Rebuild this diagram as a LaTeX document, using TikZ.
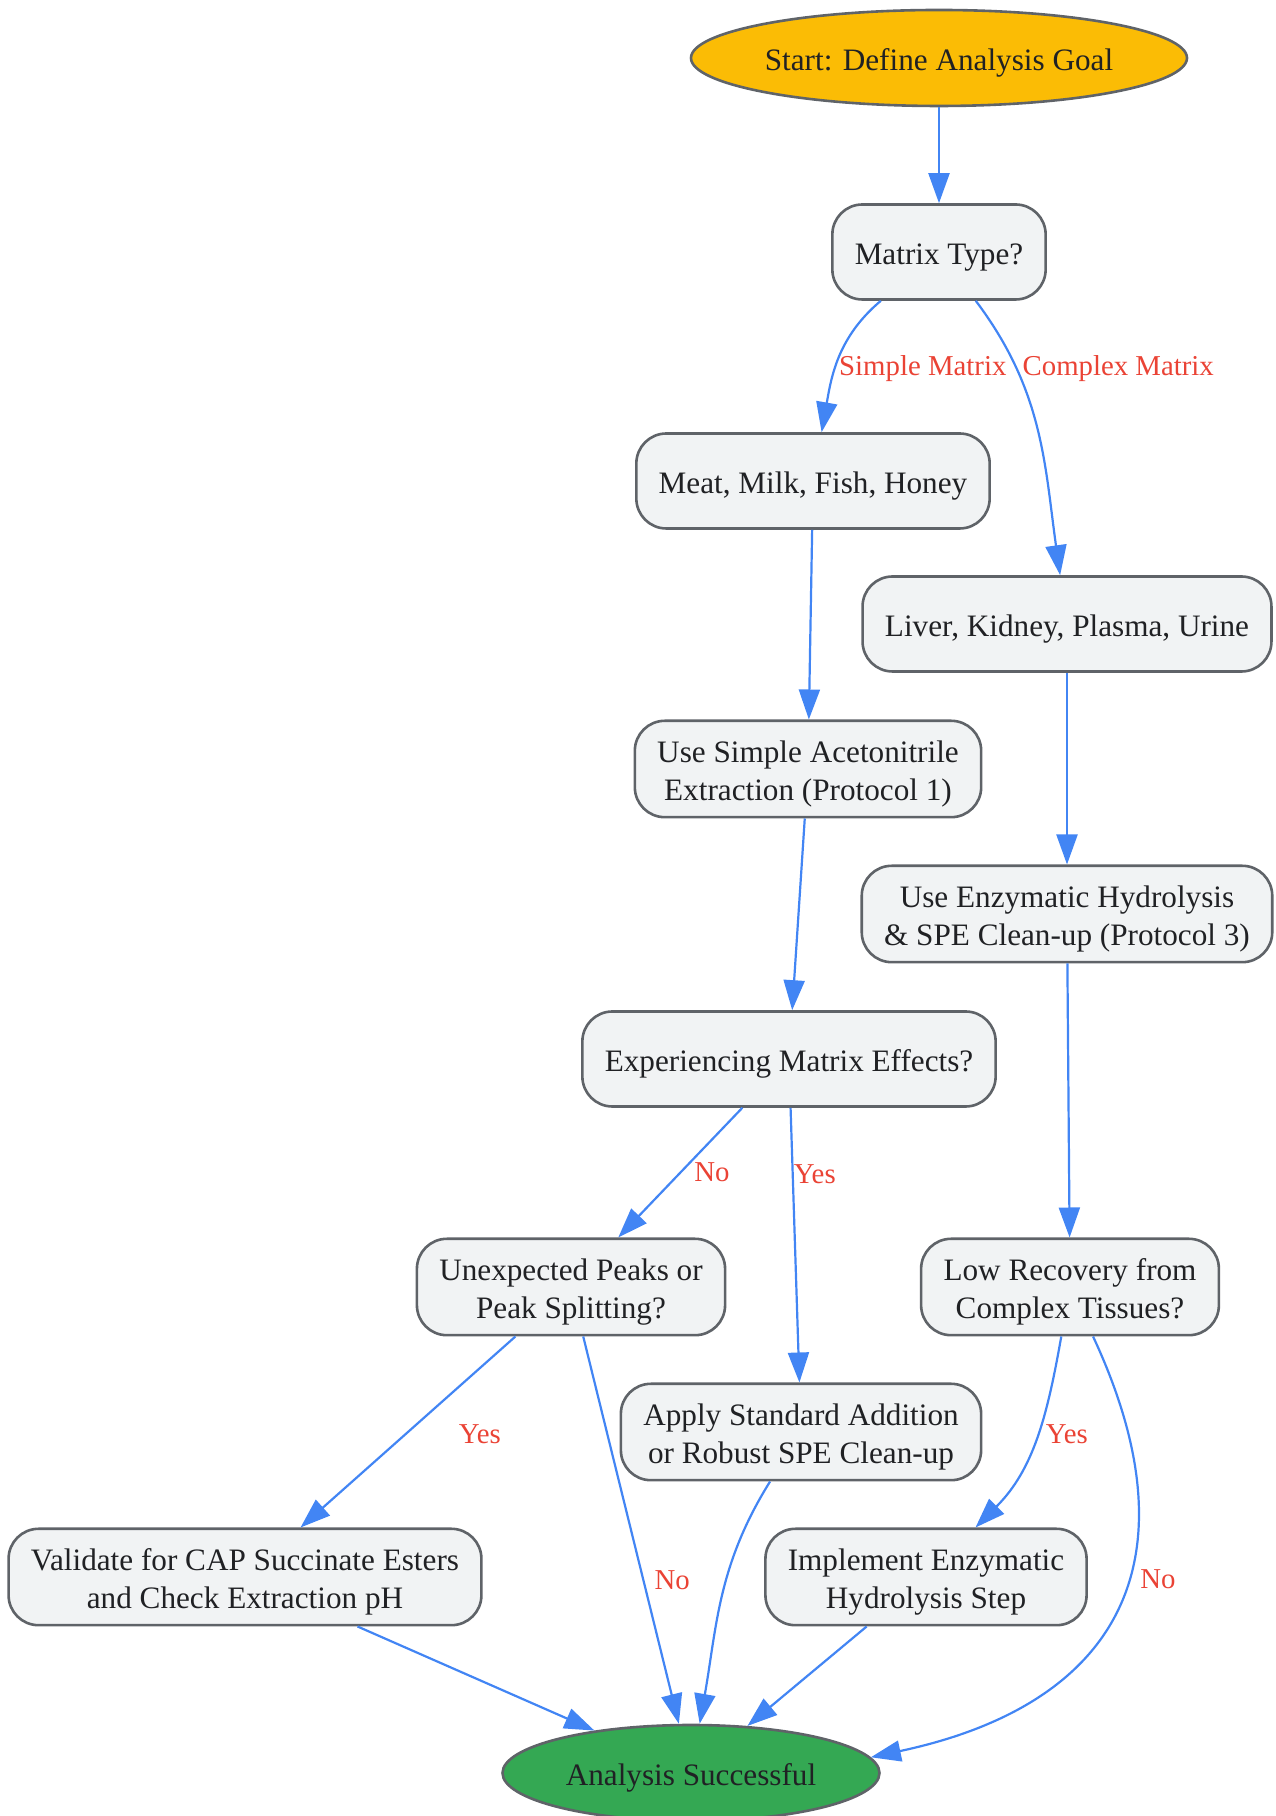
\documentclass[tikz,border=0pt]{standalone}
\usepackage{fontspec}
\setmainfont{Liberation Serif}
\usetikzlibrary{arrows.meta,shapes.geometric,positioning}
\definecolor{startgold}{HTML}{FBBC05}
\definecolor{donegreen}{HTML}{34A853}
\definecolor{boxgrey}{HTML}{F1F3F4}
\definecolor{rimgrey}{HTML}{5F6368}
\definecolor{flowblue}{HTML}{4285F4}
\definecolor{labelred}{HTML}{EA4335}
\definecolor{inkblack}{HTML}{202124}
\tikzset{
>={Triangle[length=15pt,width=10.5pt]},
  boks/.style={
    rectangle,
    rounded corners=15pt,
    fill=boxgrey,
    draw=rimgrey, line width=1.3pt,
    inner xsep=11.2pt, inner ysep=4.5pt,
    minimum height=47.5pt,
    align=center,
    text=inkblack,
    font=\fontsize{15.6}{19}\selectfont,
    execute at begin node=\rule[-4pt]{0pt}{20.6pt}},
  twoline/.style={
    execute at begin node=\rule[-4pt]{0pt}{39.2pt}},
  ende/.style={
    ellipse,
    draw=rimgrey, line width=1.3pt,
    inner sep=0pt,
    minimum height=48pt,
    text=inkblack,
    font=\fontsize{15.6}{19}\selectfont,
    execute at begin node=\rule[-4pt]{0pt}{20.4pt}},
  line/.style={draw=flowblue, line width=1.1pt, ->},
  lbl/.style={text=labelred, inner sep=2pt,
    font=\fontsize{14.4}{17}\selectfont},
}

\begin{document}
\begin{tikzpicture}[x=0.5pt, y=0.5pt]
  \useasboundingbox (0,0) rectangle (1275,1816);
  % nodes, top to bottom
  \node[ende, fill=startgold, minimum width=248pt] (start) at (939,1758) {Start: Define Analysis Goal};
  \node[boks] (matrix) at (939,1564) {Matrix Type?};
  \node[boks] (meat) at (813,1335) {Meat, Milk, Fish, Honey};
  \node[boks] (liver) at (1067,1192) {Liver, Kidney, Plasma, Urine};
  \node[boks, twoline] (simple) at (808,1047) {Use Simple Acetonitrile\\Extraction (Protocol 1)};
  \node[boks, twoline] (enzyme) at (1067,902) {Use Enzymatic Hydrolysis\\\& SPE Clean-up (Protocol 3)};
  \node[boks] (effects) at (789,757) {Experiencing Matrix Effects?};
  \node[boks, twoline] (peaks) at (571,529) {Unexpected Peaks or\\Peak Splitting?};
  \node[boks, twoline] (recovery) at (1070,529) {Low Recovery from\\Complex Tissues?};
  \node[boks, twoline] (standard) at (801,384) {Apply Standard Addition\\or Robust SPE Clean-up};
  \node[boks, twoline] (validate) at (245,239) {Validate for CAP Succinate Esters\\and Check Extraction pH};
  \node[boks, twoline] (implement) at (926,239) {Implement Enzymatic\\Hydrolysis Step};
  \node[ende, fill=donegreen, minimum width=188.5pt] (success) at (691,43) {Analysis Successful};

  % connectors
  \draw[line] (start) -- (matrix);
  \draw[line] (matrix) to[out=-140, in=80]
      node[lbl, midway, right=-2.3pt, yshift=-4.5pt] {Simple Matrix} (meat);
  \draw[line] (matrix) to[out=-53, in=98]
      node[lbl, pos=0.27, right=0pt, yshift=1pt] {Complex Matrix} (liver);
  \draw[line] (meat) -- (simple);
  \draw[line] (liver) -- (enzyme);
  \draw[line] (simple) -- (effects);
  \draw[line] (enzyme) -- (recovery);
  \draw[line] (effects) -- node[lbl, midway, right=4.5pt] {No} (peaks);
  \draw[line] (effects) -- node[lbl, pos=0.24, right=-2pt] {Yes} (standard);
  \draw[line] (peaks) -- node[lbl, pos=0.51, right=24pt] {Yes} (validate);
  \draw[line] (peaks) -- node[lbl, pos=0.63, right=3pt] {No} (success);
  \draw[line] (standard) to[out=-122, in=80] (success);
  \draw[line] (recovery) to[out=-100, in=45]
      node[lbl, midway, right=3pt, yshift=3pt] {Yes} (implement);
  \draw[line] (recovery) to[out=-65, in=12, looseness=1.35]
      node[lbl, pos=0.4, right=2pt, yshift=-5.5pt] {No} (success.5);
  \draw[line] (validate) -- (success);
  \draw[line] (implement) -- (success);
\end{tikzpicture}
\end{document}
